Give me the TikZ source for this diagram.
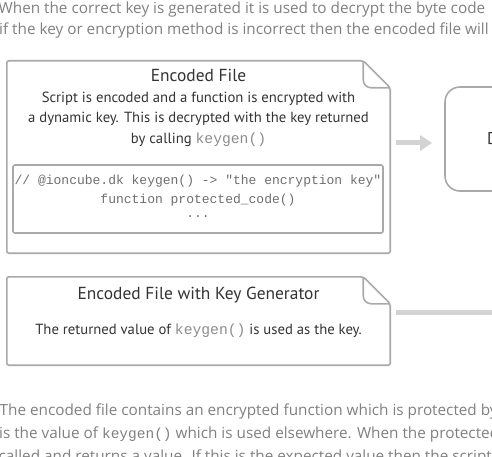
\documentclass[tikz,border=0pt]{standalone}
\usepackage{fontspec}
\setmainfont{Open Sans}
\newfontfamily\boxfont{PT Sans}
\setmonofont{Liberation Mono}
\usetikzlibrary{calc,arrows.meta,positioning}

\definecolor{pagegrey}{HTML}{808080}
\definecolor{linegrey}{HTML}{A9A9A9}
\definecolor{boxtext}{HTML}{333333}
\definecolor{codegrey}{HTML}{6E6E6E}
\definecolor{keygrey}{HTML}{8C8C8C}
\definecolor{arrowgrey}{HTML}{D3D3D3}

\newcommand{\kg}{{\ttfamily\color{keygrey}keygen()}}

\begin{document}
\begin{tikzpicture}[x=1pt, y=-1pt,
        page/.style={anchor=base west, inner sep=0, text=pagegrey,
            font=\fontsize{15.3}{21}\selectfont},
        frame/.style={inner sep=0, draw=none},
        fileline/.style={draw=linegrey, line width=1.6pt, rounded corners=2pt},
        title/.style={anchor=base, inner sep=0, text=boxtext,
            font=\boxfont\fontsize{17.4}{20}\selectfont},
        body/.style={anchor=base, inner sep=0, text=boxtext,
            font=\boxfont\fontsize{14.7}{20}\selectfont},
        code/.style={anchor=base, inner sep=0, text=codegrey,
            font=\ttfamily\fontsize{13}{18}\selectfont},
        fat/.style={arrowgrey, line width=5pt, -{Triangle[length=12pt,width=15pt]}}
      ]
  \useasboundingbox (0,0) rectangle (492,457);
  \clip (0,0) rectangle (492,457);

  % text of the page
  \node[page] (p1) at (-1.5,14) {When the correct key is generated it is used to decrypt the byte code};
  \node[page] (p2) at (-1,35) {if the key or encryption method is incorrect then the encoded file will};

  % boxes
  \node[frame, minimum width=383pt, minimum height=192pt] (encfile) at (198.5,157) {};
  \node[frame, minimum width=383pt, minimum height=88pt] (keyfile) at (198.5,321) {};
  \node[draw=linegrey, line width=1.6pt, rounded corners=15pt, inner sep=0,
        minimum width=80pt, minimum height=104pt] (decbox) at (485,139) {};
  \node[draw=linegrey, line width=1.6pt, rounded corners=2pt, inner sep=0,
        minimum width=370pt, minimum height=68pt] (codebox) at (198,199) {};

  \draw[fileline] (encfile.south west) |- ($(encfile.north east)+(-27,0)$) coordinate (ef1)
      -- ($(encfile.north east)+(0,27)$) coordinate (ef2) |- (encfile.south west) -- cycle;
  \draw[fileline, rounded corners=8pt] (ef1) |- (ef2);
  \draw[fileline] (keyfile.south west) |- ($(keyfile.north east)+(-27,0)$) coordinate (kf1)
      -- ($(keyfile.north east)+(0,27)$) coordinate (kf2) |- (keyfile.south west) -- cycle;
  \draw[fileline, rounded corners=8pt] (kf1) |- (kf2);

  % encoded file
  \node[title] (enctitle) at (198.5,82) {Encoded File};
  \node[body] (enc1) at (198.5,102.5) {Script is encoded and a function is encrypted with};
  \node[body] (enc2) at (198.5,123) {a dynamic key. This is decrypted with the key returned};
  \node[body] (enc3) at (198.5,143.5) {by calling \kg};
  \node[code] (code1) at (198,185) {// @ioncube.dk keygen() -> "the encryption key"};
  \node[code] (code2) at (198,203) {function protected\_code()};
  \node[code] (code3) at (198,217.5) {...};

  % encoded file with key generator
  \node[title] (keytitle) at (198.5,299) {Encoded File with Key Generator};
  \node[body] (key1) at (198.5,334.5) {The returned value of \kg\ is used as the key.};

  \node[anchor=base west, inner sep=0, text=boxtext,
        font=\boxfont\fontsize{17}{20}\selectfont] (dectext) at (487,145) {D};

  % connectors
  \coordinate (barend) at (500,312);
  \draw[fat, shorten <=6pt, shorten >=12pt] (encfile.east |- 0,143) -- (decbox.west |- 0,143);
  \draw[arrowgrey, line width=5pt, shorten <=6pt] (keyfile.east |- barend) -- (barend);

  \node[page] (p3) at (-0.5,415) {The encoded file contains an encrypted function which is protected by};
  \node[page] (p4) at (-1,438) {is the value of {\ttfamily\fontsize{14.5}{21}\selectfont keygen()} which is used elsewhere. When the protected};
  \node[page] (p5) at (-1.5,461) {called and returns a value. If this is the expected value then the script};
\end{tikzpicture}
\end{document}
